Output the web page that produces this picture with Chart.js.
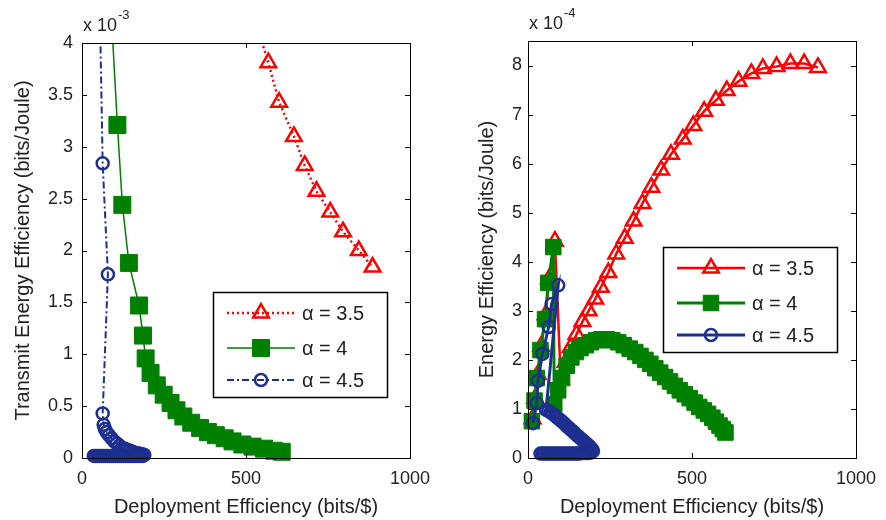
<!DOCTYPE html>
<html>
<head>
<meta charset="utf-8">
<script src="https://cdn.jsdelivr.net/npm/chart.js@4.4.1/dist/chart.umd.min.js"></script>
<style>
  html, body { margin: 0; padding: 0; background: #fff; }
  #wrap { position: relative; width: 886px; height: 520px; }
  .panel { position: absolute; top: 0; height: 520px; }
  #left { left: 0; width: 440px; }
  #right { left: 440px; width: 446px; }
</style>
</head>
<body>
<div id="wrap">
  <div class="panel" id="left"><canvas id="c1"></canvas></div>
  <div class="panel" id="right"><canvas id="c2"></canvas></div>
</div>
<script>
// Two panels: transmit EE (x 10^-3) and total EE (x 10^-4) vs deployment efficiency

const seriesLabels = ['α = 3.5', 'α = 4', 'α = 4.5'];
const xTicks = [0, 500, 1000];
const yTicksLeft = [0, 0.5, 1, 1.5, 2, 2.5, 3, 3.5, 4];
const yTicksRight = [0, 1, 2, 3, 4, 5, 6, 7, 8];

// left panel (values in units of 1e-3 bits/Joule)
const teeRedX = [530, 568, 601, 646, 679, 715, 757, 796, 844, 886];
const teeRedY = [4.2, 3.81, 3.43, 3.10, 2.82, 2.57, 2.37, 2.18, 2.00, 1.84];
const teeGreenX = [80, 108, 123, 143, 174, 186, 194, 209, 228, 249, 270, 288, 309, 333, 360, 384, 408, 435, 459, 489, 520, 555, 585, 609];
const teeGreenY = [4.8, 3.21, 2.44, 1.88, 1.47, 1.18, 0.96, 0.82, 0.70, 0.61, 0.53, 0.46, 0.40, 0.34, 0.29, 0.25, 0.22, 0.19, 0.16, 0.13, 0.11, 0.09, 0.07, 0.06];
const teeBlueX = [54, 63, 79, 63, 66, 70, 75, 82, 90, 98, 106, 114, 122, 130, 138, 146, 154, 162, 170, 177, 184, 190,
  186, 180, 174, 168, 162, 156, 150, 144, 138, 132, 126, 120, 114, 108, 102, 96, 90, 84, 78, 72, 66, 60, 54, 48, 42, 36];
const teeBlueY = [4.4, 2.84, 1.77, 0.43, 0.32, 0.28, 0.25, 0.22, 0.19, 0.16, 0.14, 0.12, 0.10, 0.09, 0.08, 0.07, 0.06, 0.05, 0.045, 0.04, 0.035, 0.03,
  0.02, 0.02, 0.02, 0.02, 0.02, 0.02, 0.02, 0.02, 0.02, 0.02, 0.02, 0.02, 0.02, 0.02, 0.02, 0.02, 0.02, 0.02, 0.02, 0.02, 0.02, 0.02, 0.02, 0.02, 0.02, 0.02];

// right panel (values in units of 1e-4 bits/Joule)
const eeRedX = [14, 22, 30, 40, 54, 64, 82, 100, 115, 130, 148, 166, 185, 205, 222, 245, 269, 295, 322, 349, 376, 406, 436, 472, 504, 537, 573, 606, 642, 681, 716, 758, 800, 842, 884];
const eeRedY = [0.80, 1.22, 1.70, 2.28, 2.92, 3.65, 4.42, 1.60, 1.95, 2.25, 2.52, 2.78, 3.00, 3.24, 3.48, 3.78, 4.16, 4.48, 4.83, 5.19, 5.52, 5.87, 6.19, 6.50, 6.78, 7.07, 7.29, 7.49, 7.68, 7.84, 7.94, 7.98, 8.04, 8.04, 7.96];
const eeGreenX = [12, 20, 27, 38, 52, 62, 77, 80, 92, 104, 118, 132, 146, 160, 176, 192, 208, 224, 240, 257, 275, 292, 310, 327, 343, 358, 373, 388, 403, 418, 433, 448, 463, 478, 493, 508, 522, 536, 549, 562, 573, 584, 594, 602];
const eeGreenY = [0.75, 1.17, 1.63, 2.20, 2.83, 3.57, 4.30, 1.10, 1.38, 1.63, 1.88, 2.05, 2.16, 2.24, 2.30, 2.36, 2.40, 2.42, 2.42, 2.40, 2.36, 2.30, 2.23, 2.16, 2.08, 2.00, 1.92, 1.83, 1.74, 1.65, 1.56, 1.47, 1.38, 1.30, 1.22, 1.13, 1.04, 0.97, 0.90, 0.82, 0.74, 0.66, 0.59, 0.52];
const eeBlueX = [15, 27, 30, 44, 63, 72, 92,
  55, 62, 69, 76, 83, 90, 97, 104, 111, 118, 125, 132, 139, 146, 153, 160, 167, 174, 181, 187, 192, 196, 198,
  192, 185, 178, 171, 164, 157, 150, 143, 136, 129, 122, 115, 108, 101, 94, 87, 80, 73, 66, 59, 52, 45, 38];
const eeBlueY = [0.71, 1.12, 1.57, 2.12, 2.67, 3.14, 3.52,
  0.98, 0.96, 0.93, 0.90, 0.86, 0.82, 0.78, 0.74, 0.70, 0.65, 0.61, 0.57, 0.53, 0.48, 0.44, 0.40, 0.36, 0.32, 0.28, 0.24, 0.20, 0.17, 0.14,
  0.11, 0.10, 0.10, 0.10, 0.10, 0.09, 0.09, 0.09, 0.09, 0.09, 0.09, 0.09, 0.09, 0.09, 0.09, 0.09, 0.09, 0.09, 0.09, 0.09, 0.09, 0.09, 0.09];

const RED = '#ff0000';
const GREEN = '#008000';
const BLUE = '#1f2f8f';
const FONT = '"Liberation Sans", Arial, sans-serif';

Chart.defaults.font.family = FONT;
Chart.defaults.font.size = 18;
Chart.defaults.color = '#222';

const pts = (xs, ys) => xs.map((x, i) => ({ x, y: ys[i] }));

// MATLAB-like box with inward ticks, exponent note and a legend inside the axes
const framePlugin = {
  id: 'frame',
  afterDatasetsDraw(chart, args, o) {
    const { ctx, chartArea: a, scales: { x, y } } = chart;
    ctx.save();
    ctx.strokeStyle = '#000';
    ctx.lineWidth = 1;
    ctx.setLineDash([]);
    ctx.strokeRect(Math.round(a.left) + 0.5, Math.round(a.top) + 0.5, Math.round(a.width), Math.round(a.height));
    ctx.beginPath();
    x.ticks.forEach((t) => {
      const px = Math.round(x.getPixelForValue(t.value)) + 0.5;
      ctx.moveTo(px, a.bottom); ctx.lineTo(px, a.bottom - 5);
      ctx.moveTo(px, a.top); ctx.lineTo(px, a.top + 5);
    });
    y.ticks.forEach((t) => {
      const py = Math.round(y.getPixelForValue(t.value)) + 0.5;
      ctx.moveTo(a.left, py); ctx.lineTo(a.left + 5, py);
      ctx.moveTo(a.right, py); ctx.lineTo(a.right - 5, py);
    });
    ctx.stroke();

    // exponent note
    ctx.fillStyle = '#222';
    ctx.textBaseline = 'alphabetic';
    ctx.textAlign = 'left';
    ctx.font = '18px ' + FONT;
    ctx.fillText('x 10', a.left + 1, a.top - 12);
    const w = ctx.measureText('x 10').width;
    ctx.font = '13px ' + FONT;
    ctx.fillText(o.exponent, a.left + 2 + w, a.top - 24);

    // legend
    const L = o.legend;
    const bx = a.left + L.dx, by = a.top + L.dy;
    ctx.fillStyle = '#fff';
    ctx.fillRect(bx, by, L.w, L.h);
    ctx.strokeStyle = '#000';
    ctx.lineWidth = 1.5;
    ctx.strokeRect(bx + 0.5, by + 0.5, L.w, L.h);
    const rows = [21, 56, 88];
    chart.data.datasets.forEach((ds, i) => {
      const ry = by + rows[i];
      ctx.strokeStyle = ds.borderColor;
      ctx.lineWidth = ds.borderWidth;
      ctx.setLineDash(ds.borderDash || []);
      ctx.beginPath();
      ctx.moveTo(bx + 14, ry); ctx.lineTo(bx + 82, ry);
      ctx.stroke();
      ctx.setLineDash([]);
      ctx.fillStyle = ds.pointBackgroundColor;
      ctx.strokeStyle = ds.pointBorderColor;
      ctx.lineWidth = ds.pointBorderWidth;
      Chart.helpers.drawPoint(ctx, {
        pointStyle: ds.pointStyle, radius: ds.pointRadius, borderWidth: ds.pointBorderWidth, rotation: 0
      }, bx + 48, ry);
      ctx.fillStyle = '#222';
      ctx.font = '20px ' + FONT;
      ctx.textBaseline = 'middle';
      ctx.fillText(ds.label, bx + 89, ry + 1);
    });
    ctx.restore();
  }
};

function makeChart(canvasId, datasets, cfg) {
  return new Chart(document.getElementById(canvasId), {
    type: 'scatter',
    data: { datasets },
    plugins: [framePlugin],
    options: {
      responsive: true,
      maintainAspectRatio: false,
      animation: false,
      devicePixelRatio: 1,
      layout: { padding: { top: cfg.top, right: cfg.right, left: 0, bottom: 0 } },
      plugins: {
        legend: { display: false },
        tooltip: { enabled: false },
        frame: { exponent: cfg.exponent, legend: cfg.legend }
      },
      scales: {
        x: {
          type: 'linear',
          min: 0,
          max: 1000,
          grid: { display: false, drawTicks: false },
          border: { display: false },
          ticks: { padding: 10, callback: (v) => String(v) },
          afterBuildTicks: (s) => { s.ticks = xTicks.map((v) => ({ value: v })); },
          afterFit: (s) => { s.height = 62; },
          title: {
            display: true,
            text: 'Deployment Efficiency (bits/$)',
            font: { size: 20 },
            padding: { top: 0, bottom: 1 }
          }
        },
        y: {
          type: 'linear',
          min: 0,
          max: cfg.yMax,
          grid: { display: false, drawTicks: false },
          border: { display: false },
          ticks: { padding: cfg.tickPad, callback: (v) => String(v) },
          afterBuildTicks: (s) => { s.ticks = cfg.yTicks.map((v) => ({ value: v })); },
          afterFit: (s) => { s.width = cfg.yWidth; },
          title: {
            display: true,
            text: cfg.yTitle,
            font: { size: 20 },
            padding: { top: cfg.titlePad, bottom: 0 }
          }
        }
      }
    }
  });
}

const clipArea = { left: 10, top: 0, right: 10, bottom: 10 };

makeChart('c1', [
  {
    label: seriesLabels[0], data: pts(teeRedX, teeRedY), showLine: true, order: 3, clip: clipArea,
    borderColor: RED, borderWidth: 2.5, borderDash: [2, 3],
    pointStyle: 'triangle', pointRadius: 9, pointBorderWidth: 2.5,
    pointBorderColor: RED, pointBackgroundColor: 'rgba(255,255,255,0)'
  },
  {
    label: seriesLabels[1], data: pts(teeGreenX, teeGreenY), showLine: true, order: 2, clip: clipArea,
    borderColor: GREEN, borderWidth: 1.5,
    pointStyle: 'rect', pointRadius: 12, pointBorderWidth: 1,
    pointBorderColor: GREEN, pointBackgroundColor: GREEN
  },
  {
    label: seriesLabels[2], data: pts(teeBlueX, teeBlueY), showLine: true, order: 1, clip: clipArea,
    borderColor: BLUE, borderWidth: 2, borderDash: [7, 3, 2, 3],
    pointStyle: 'circle', pointRadius: 6, pointBorderWidth: 2.5,
    pointBorderColor: BLUE, pointBackgroundColor: 'rgba(255,255,255,0)'
  }
], {
  top: 43, right: 25, yMax: 4, yTicks: yTicksLeft, yWidth: 82, tickPad: 9, titlePad: 11,
  yTitle: 'Transmit Energy Efficiency (bits/Joule)', exponent: '-3',
  legend: { dx: 131, dy: 249, w: 174, h: 105 }
});

makeChart('c2', [
  {
    label: seriesLabels[0], data: pts(eeRedX, eeRedY), showLine: true, order: 3, clip: clipArea,
    borderColor: RED, borderWidth: 2.5,
    pointStyle: 'triangle', pointRadius: 9, pointBorderWidth: 2.5,
    pointBorderColor: RED, pointBackgroundColor: 'rgba(255,255,255,0)'
  },
  {
    label: seriesLabels[1], data: pts(eeGreenX, eeGreenY), showLine: true, order: 2, clip: clipArea,
    borderColor: GREEN, borderWidth: 3,
    pointStyle: 'rect', pointRadius: 11, pointBorderWidth: 1,
    pointBorderColor: GREEN, pointBackgroundColor: GREEN
  },
  {
    label: seriesLabels[2], data: pts(eeBlueX, eeBlueY), showLine: true, order: 1, clip: clipArea,
    borderColor: BLUE, borderWidth: 3,
    pointStyle: 'circle', pointRadius: 6, pointBorderWidth: 2.5,
    pointBorderColor: BLUE, pointBackgroundColor: 'rgba(255,255,255,0)'
  }
], {
  top: 41, right: 23, yMax: 8.5, yTicks: yTicksRight, yWidth: 88, tickPad: 6, titlePad: 35,
  yTitle: 'Energy Efficiency (bits/Joule)', exponent: '-4',
  legend: { dx: 135, dy: 206, w: 174, h: 105 }
});
</script>
</body>
</html>
